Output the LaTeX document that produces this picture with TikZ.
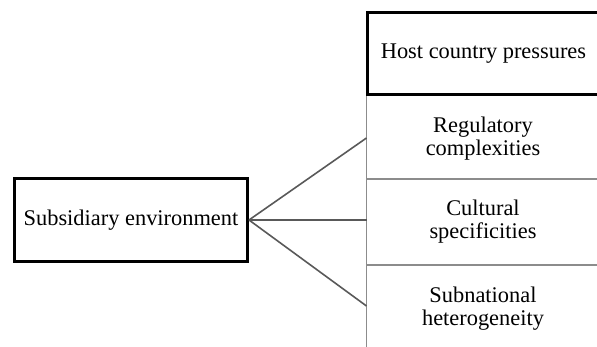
\documentclass[tikz,border=0pt]{standalone}
\usepackage{fontspec}
\setmainfont{Liberation Serif}
\begin{document}
\begin{tikzpicture}[x=1pt, y=-1pt,
  frame/.style={draw=black, line width=3pt, rectangle, inner sep=0pt,
    font=\fontsize{22.4}{23}\selectfont},
  factor/.style={font=\fontsize{22.4}{23}\selectfont, align=center, inner sep=0pt},
  rule/.style={draw=black!45, line width=1.5pt},
  link/.style={draw=black!65, line width=1.6pt}]
\useasboundingbox (0,0) rectangle (597,347);

% column of host country factors
\draw[rule] (366.5,95) -- (366.5,347);
\draw[rule] (366.5,179) -- (597,179);
\draw[rule] (366.5,265) -- (597,265);

\node[frame, minimum width=233pt, minimum height=82pt] (host) at (483.5,54)
  {Host country pressures};

\node[factor] (reg) at (483,139) {Regulatory\\complexities};
\node[factor] (cul) at (483,222) {Cultural\\specificities};
\node[factor] (sub) at (483,308.5) {Subnational\\heterogeneity};

% subsidiary box and its links
\node[frame, minimum width=233pt, minimum height=83pt] (env) at (131,220)
  {Subsidiary environment};

\coordinate (pReg) at (366.5,138);
\coordinate (pCul) at (366.5,220);
\coordinate (pSub) at (366.5,306);

\draw[link] (env.east) -- (pReg);
\draw[link] (env.east) -- (pCul);
\draw[link] (env.east) -- (pSub);
\end{tikzpicture}
\end{document}
